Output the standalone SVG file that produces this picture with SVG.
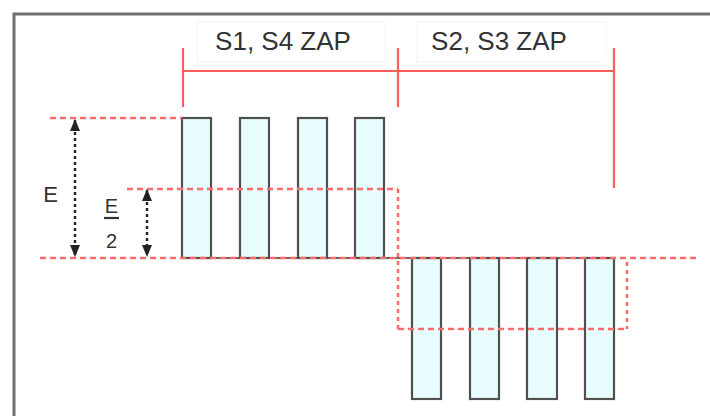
<svg xmlns="http://www.w3.org/2000/svg" width="710" height="416" viewBox="0 0 710 416">
  <style>
    .frame{fill:none;stroke:#6e6e6e;stroke-width:3}
    .lblbox{fill:none;stroke:#f4f4f4;stroke-width:1}
    .txt{font-family:"Liberation Sans",Arial,sans-serif;fill:#333333}
    .red{stroke:#ff5c5c;stroke-width:2.2;fill:none}
    .dash{stroke:#ff6b6b;stroke-width:2.6;fill:none;stroke-dasharray:6 4}
    .vdash{stroke:#ff6b6b;stroke-width:2.6;fill:none;stroke-dasharray:4 4}
    .pulse{fill:#e8fdfd;stroke:#505050;stroke-width:2.2}
    .base{stroke:#666666;stroke-width:2.2;fill:none}
    .arr{stroke:#222222;stroke-width:2.4;stroke-dasharray:3 3;fill:none}
  </style>
  <defs>
    <marker id="ah" viewBox="0 0 12 10" refX="11" refY="5" markerWidth="12" markerHeight="10" orient="auto-start-reverse" markerUnits="userSpaceOnUse">
      <path d="M0,0 L12,5 L0,10 Z" fill="#222222"/>
    </marker>
  </defs>
  <rect width="710" height="416" fill="#ffffff"/>
  <path class="frame" d="M14,416 V14 H710"/>

  <g id="label-s1s4">
    <rect class="lblbox" x="197" y="22" width="188" height="40"/>
    <text class="txt" x="283" y="50" font-size="26" text-anchor="middle">S1, S4 ZAP</text>
  </g>
  <g id="label-s2s3">
    <rect class="lblbox" x="417" y="22" width="189" height="40"/>
    <text class="txt" x="499" y="50" font-size="26" text-anchor="middle">S2, S3 ZAP</text>
  </g>

  <g id="timeline">
    <line class="red" x1="183" y1="71" x2="614" y2="71"/>
    <line class="red" x1="183" y1="48" x2="183" y2="107"/>
    <line class="red" x1="398" y1="48" x2="398" y2="107"/>
    <line class="red" x1="614" y1="48" x2="614" y2="188"/>
  </g>

  <g id="positive-pulses">
    <line class="base" x1="182" y1="258" x2="614" y2="258"/>
    <rect class="pulse" x="182" y="118" width="29" height="140"/>
    <rect class="pulse" x="240" y="118" width="29" height="140"/>
    <rect class="pulse" x="298" y="118" width="29" height="140"/>
    <rect class="pulse" x="355" y="118" width="29" height="140"/>
  </g>
  <g id="negative-pulses">
    <rect class="pulse" x="412" y="258" width="29" height="141"/>
    <rect class="pulse" x="470" y="258" width="29" height="141"/>
    <rect class="pulse" x="527" y="258" width="30" height="141"/>
    <rect class="pulse" x="585" y="258" width="29" height="141"/>
  </g>

  <g id="reference-lines">
    <line class="dash" x1="50" y1="118" x2="182" y2="118"/>
    <line class="dash" x1="40" y1="258" x2="700" y2="258"/>
    <line class="dash" x1="127" y1="189" x2="398" y2="189"/>
    <line class="vdash" x1="398" y1="189" x2="398" y2="329"/>
    <line class="dash" x1="398" y1="329" x2="627" y2="329"/>
    <line class="vdash" x1="627" y1="262" x2="627" y2="329"/>
  </g>

  <g id="dim-E">
    <line class="arr" x1="75" y1="120" x2="75" y2="256" marker-start="url(#ah)" marker-end="url(#ah)"/>
    <text class="txt" x="50.5" y="202" font-size="22" text-anchor="middle">E</text>
  </g>
  <g id="dim-E2">
    <line class="arr" x1="147" y1="190" x2="147" y2="256" marker-start="url(#ah)" marker-end="url(#ah)"/>
    <text class="txt" x="111.5" y="213" font-size="20" text-anchor="middle">E</text>
    <line x1="104" y1="218" x2="119" y2="218" stroke="#333333" stroke-width="2.2"/>
    <text class="txt" x="111.5" y="248" font-size="20" text-anchor="middle">2</text>
  </g>
</svg>
